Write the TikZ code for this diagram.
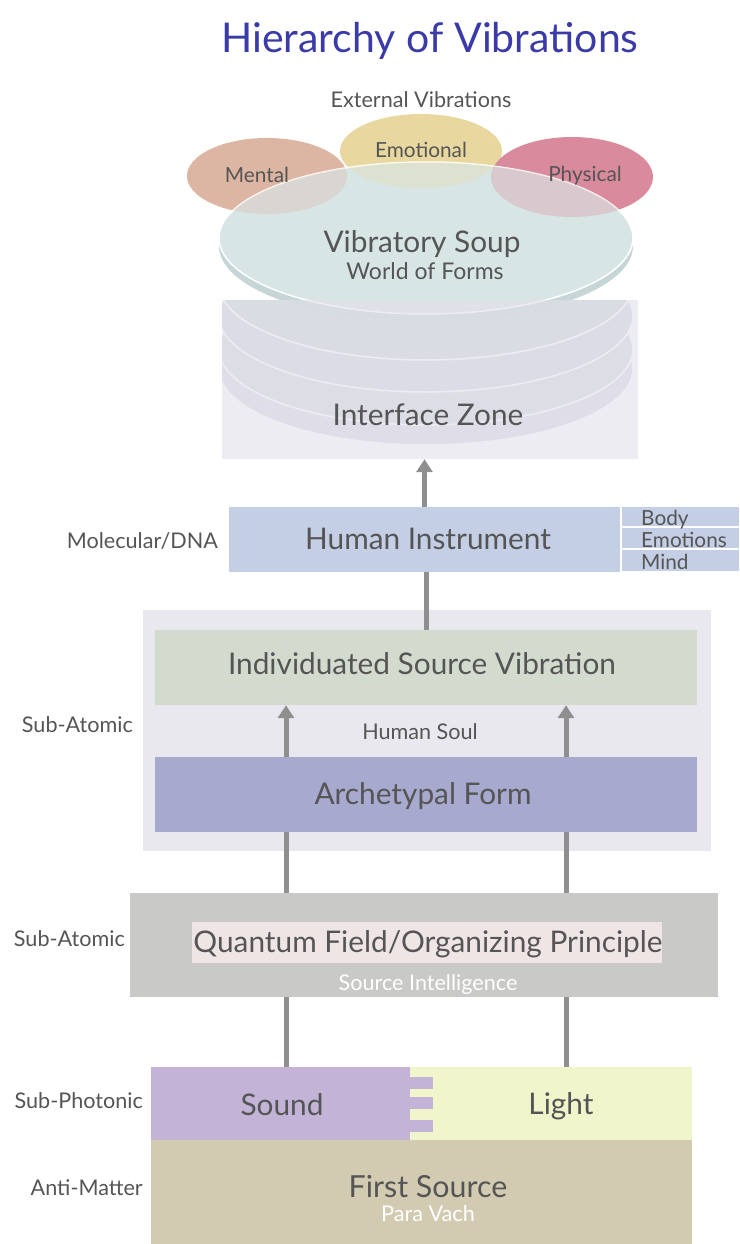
\documentclass[tikz,border=0pt]{standalone}
\usepackage{fontspec}
\setmainfont{Lato}
\usetikzlibrary{arrows.meta,shapes.geometric}
\definecolor{txt}{HTML}{555555}
\definecolor{titlec}{HTML}{3A3AA8}
\definecolor{connc}{HTML}{8F8F8F}
\definecolor{mentalc}{HTML}{DCB5A3}
\definecolor{emoc}{HTML}{E8D8A0}
\definecolor{physc}{HTML}{D98A9C}
\definecolor{soupc}{HTML}{D8E5E5}
\definecolor{discc}{HTML}{C6D5D6}
\definecolor{ifacec}{HTML}{E3E0EB}
\definecolor{humc}{HTML}{C4CEE4}
\definecolor{soulc}{HTML}{E8E8EE}
\definecolor{isvc}{HTML}{D3DBCF}
\definecolor{archc}{HTML}{A7A9CF}
\definecolor{qfc}{HTML}{C9C9C7}
\definecolor{qfinc}{HTML}{EFE5E5}
\definecolor{soundc}{HTML}{C3B3D7}
\definecolor{lightc}{HTML}{F1F5CB}
\definecolor{firstc}{HTML}{D3CAB2}
\tikzset{
  tn/.style={text=txt, inner sep=0pt, anchor=base},
  fs/.style={font=\fontsize{#1}{#1}\selectfont, yshift=-0.36*#1},
  lbl/.style={tn, fs=29.8},
  small/.style={tn, fs=21.6},
  side/.style={small, anchor=base east},
  wlbl/.style={tn, text=white},
  box/.style={rectangle, inner sep=0pt, draw=none},
  oval/.style={ellipse, inner sep=0pt, draw=none},
  conn/.style={line width=5pt, draw=connc},
  arr/.style={conn, -{Triangle[width=16pt,length=13pt]}},
}
\begin{document}
\begin{tikzpicture}[x=1pt,y=-1pt]
\useasboundingbox (0,0) rectangle (739,1244);
% title
\node[tn, text=titlec, fs=41] (title) at (430,38) {Hierarchy of Vibrations};
\node[small] (ext) at (421,100) {External Vibrations};
% top ellipses (opaque)
\node[oval, fill=mentalc, minimum width=160pt, minimum height=76pt] (mental) at (267,176) {};
\node[oval, fill=emoc, minimum width=162pt, minimum height=74pt] (emo) at (421,151) {};
\node[oval, fill=physc, minimum width=162pt, minimum height=80pt] (phys) at (572,177) {};
% stacked rings inside interface zone
\begin{scope}
  \clip (222,300) rectangle (638,459);
  \fill[fill=white] (222,300) rectangle (638,459);
  \filldraw[fill=ifacec!70!discc, draw=white, line width=1.5pt] (426,369) ellipse [x radius=207, y radius=76];
  \filldraw[fill=ifacec!50!discc, draw=white, line width=1.5pt] (426,349) ellipse [x radius=207, y radius=76];
  \filldraw[fill=ifacec!30!discc, draw=white, line width=1.5pt] (426,316) ellipse [x radius=207, y radius=76];
  \filldraw[fill=ifacec!15!discc, draw=white, line width=1.5pt] (426,284) ellipse [x radius=207, y radius=76];
\end{scope}
% soup disc
\fill[discc] (426,246) ellipse [x radius=207, y radius=76];
\node[oval, fill=soupc, draw=white, line width=1.5pt, minimum width=414pt, minimum height=152pt] (soup) at (426,238) {};
\begin{scope}
  \clip (soup.center) ellipse [x radius=207, y radius=76];
  \fill[mentalc, opacity=0.3] (mental.center) ellipse [x radius=80, y radius=38];
  \fill[emoc, opacity=0.3] (emo.center) ellipse [x radius=81, y radius=37];
  \fill[physc, opacity=0.3] (phys.center) ellipse [x radius=81, y radius=40];
\end{scope}
% interface zone
\node[box, fill=ifacec, fill opacity=0.6, minimum width=416pt, minimum height=159pt] (iface) at (430,379.5) {};
% labels on top
\node[tn, fs=20.8] (mentalt) at (257,175) {Mental};
\node[tn, fs=20.8] (emot) at (421,150) {Emotional};
\node[tn, fs=20.8] (physt) at (585,174) {Physical};
\node[lbl] (soupt) at (422,242) {Vibratory Soup};
\node[tn, fs=23] (worldt) at (425,271) {World of Forms};
\node[lbl] (ifacet) at (428,415) {Interface Zone};
% human instrument
\node[box, fill=humc, minimum width=391pt, minimum height=65pt] (hum) at (424.5,539.5) {};
\node[lbl] (humt) at (428,539) {Human Instrument};
\node[box, fill=humc, minimum width=117pt, minimum height=19pt] (body) at (680.5,516.5) {};
\node[box, fill=humc, minimum width=117pt, minimum height=20pt] (emor) at (680.5,538) {};
\node[box, fill=humc, minimum width=117pt, minimum height=21pt] (mind) at (680.5,560.5) {};
\node[tn, fs=20.8, anchor=base west] (bodyt) at (641,518) {Body};
\node[tn, fs=20.8, anchor=base west] (emort) at (641,540) {Emotions};
\node[tn, fs=20.8, anchor=base west] (mindt) at (641,562) {Mind};
\node[side] (mol) at (218,541) {Molecular/DNA};
% human soul container
\node[box, fill=soulc, minimum width=568pt, minimum height=241pt] (soul) at (427,730.5) {};
\node[box, fill=isvc, minimum width=542pt, minimum height=75pt] (isv) at (426,667.5) {};
\node[lbl] (isvt) at (422,664) {Individuated Source Vibration};
\node[small] (soult) at (420,732) {Human Soul};
\node[box, fill=archc, minimum width=542pt, minimum height=75pt] (arch) at (426,794.5) {};
\node[lbl] (archt) at (423,794) {Archetypal Form};
\node[side] (sa1) at (133,725) {Sub-Atomic};
% quantum field
\node[box, fill=qfc, minimum width=588pt, minimum height=104pt] (qf) at (424,945) {};
\node[box, fill=qfinc, minimum width=470pt, minimum height=41pt] (qfin) at (427,942.5) {};
\node[lbl] (qft) at (428,942) {Quantum Field/Organizing Principle};
\node[wlbl, fs=21.6] (sit) at (428,983) {Source Intelligence};
\node[side] (sa2) at (125,939) {Sub-Atomic};
% sound / light
\node[box, fill=lightc, minimum width=282pt, minimum height=73pt] (lgt) at (551,1103.5) {};
\node[box, fill=soundc, minimum width=259pt, minimum height=73pt] (snd) at (280.5,1103.5) {};
\fill[soundc] (snd.north east) ++(0,10) rectangle ++(23,12);
\fill[soundc] (snd.north east) ++(0,30) rectangle ++(23,12);
\fill[soundc] (snd.north east) ++(0,53) rectangle ++(23,12);
\node[lbl] (sndt) at (282,1105) {Sound};
\node[lbl] (lgtt) at (561,1104) {Light};
\node[side] (sp) at (143,1101) {Sub-Photonic};
% first source
\node[box, fill=firstc, minimum width=541pt, minimum height=104pt] (first) at (421.5,1192) {};
\node[tn, fs=30.4] (firstt) at (428,1187) {First Source};
\node[wlbl, fs=21.7] (parat) at (428,1214) {Para Vach};
\node[side] (am) at (143,1188) {Anti-Matter};
% connectors
\coordinate (L) at (286,0);
\coordinate (R) at (566,0);
\draw[arr] (hum.north) -- (hum.north |- iface.south);
\draw[conn] (isv.north) -- (isv.north |- hum.south);
\draw[arr] (arch.north -| L) -- (isv.south -| L);
\draw[arr] (arch.north -| R) -- (isv.south -| R);
\draw[conn] (qf.north -| L) -- (arch.south -| L);
\draw[conn] (qf.north -| R) -- (arch.south -| R);
\draw[conn] (snd.north -| L) -- (qf.south -| L);
\draw[conn] (lgt.north -| R) -- (qf.south -| R);
\end{tikzpicture}
\end{document}
